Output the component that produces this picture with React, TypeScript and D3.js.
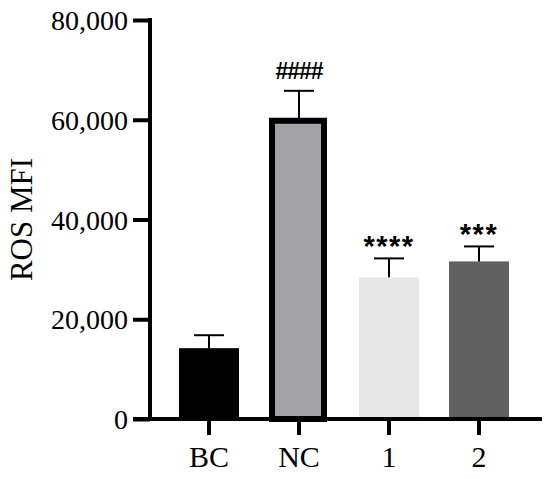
import React, { useEffect, useRef } from 'react';
import * as d3 from 'd3';

const categories = ['BC', 'NC', '1', '2'];
const means = [14200, 60000, 28400, 31600];
const errors = [2600, 5800, 3800, 3000];
const marks = ['', '####', '****', '***'];
const yTicks = [0, 20000, 40000, 60000, 80000];
const fills = ['#000000', '#a2a2a6', '#e8e8e8', '#616161'];

const App: React.FC = () => {
  const svgRef = useRef<SVGSVGElement>(null);

  useEffect(() => {
    if (!svgRef.current) return;
    const svg = d3.select(svgRef.current);
    svg.selectAll('*').remove();

    const serif = '"Liberation Serif", "Times New Roman", serif';
    const sans = '"Liberation Sans", Arial, sans-serif';

    const x = d3.scaleBand<string>()
      .domain(categories)
      .range([164, 524])
      .paddingInner(1 / 3)
      .paddingOuter(1 / 6);

    const y = d3.scaleLinear()
      .domain([0, 80000])
      .range([419, 20]);

    const data = categories.map((c, i) => ({ c, m: means[i], e: errors[i], mark: marks[i], fill: fills[i] }));

    // bars
    data.forEach((d, i) => {
      const x0 = x(d.c)!;
      const w = x.bandwidth();
      if (i === 1) {
        svg.append('rect')
          .attr('x', x0 + 3)
          .attr('y', y(d.m) + 1)
          .attr('width', w - 8)
          .attr('height', y(0) - y(d.m) - 1)
          .attr('fill', d.fill)
          .attr('stroke', '#000')
          .attr('stroke-width', 6);
      } else {
        svg.append('rect')
          .attr('x', x0)
          .attr('y', y(d.m))
          .attr('width', w)
          .attr('height', y(0) - y(d.m))
          .attr('fill', d.fill);
      }

      // error bar (upper only)
      const cx = x0 + w / 2;
      const top = y(d.m + d.e);
      svg.append('line')
        .attr('x1', cx).attr('x2', cx)
        .attr('y1', y(d.m)).attr('y2', top)
        .attr('stroke', '#000').attr('stroke-width', 2);
      svg.append('line')
        .attr('x1', cx - 15).attr('x2', cx + 15)
        .attr('y1', top).attr('y2', top)
        .attr('stroke', '#000').attr('stroke-width', 2);

      if (d.mark) {
        const isHash = d.mark.startsWith('#');
        svg.append('text')
          .attr('x', cx)
          .attr('y', isHash ? top - 12 : top - 2)
          .attr('text-anchor', 'middle')
          .attr('font-family', sans)
          .attr('font-weight', 'bold')
          .attr('font-size', isHash ? 23 : 29)
          .attr('letter-spacing', isHash ? -1 : 1.5)
          .attr('fill', '#000')
          .text(d.mark);
      }
    });

    // y axis
    const yAxis = svg.append('g')
      .attr('transform', 'translate(150,0)')
      .call(d3.axisLeft(y).tickValues(yTicks).tickSize(17).tickPadding(5).tickFormat(d3.format(',')));
    yAxis.select('.domain').remove();
    yAxis.selectAll('.tick line').attr('stroke', '#000').attr('stroke-width', 4);
    yAxis.selectAll('.tick text')
      .attr('font-family', serif)
      .attr('font-size', 28)
      .attr('fill', '#000')
      .attr('dy', '0.34em');
    svg.append('line')
      .attr('x1', 150).attr('x2', 150)
      .attr('y1', y(80000) - 2).attr('y2', y(0) + 2)
      .attr('stroke', '#000').attr('stroke-width', 4);

    // x axis
    const xAxis = svg.append('g')
      .attr('transform', `translate(0,${y(0)})`)
      .call(d3.axisBottom(x).tickSize(16).tickPadding(11));
    xAxis.select('.domain').remove();
    xAxis.selectAll('.tick line').attr('stroke', '#000').attr('stroke-width', 4);
    xAxis.selectAll('.tick text')
      .attr('font-family', serif)
      .attr('font-size', 30)
      .attr('fill', '#000');
    svg.append('line')
      .attr('x1', 133).attr('x2', 542)
      .attr('y1', y(0)).attr('y2', y(0))
      .attr('stroke', '#000').attr('stroke-width', 4);

    // y label
    svg.append('text')
      .attr('transform', `translate(32,${(y(0) + y(80000)) / 2})rotate(-90)`)
      .attr('text-anchor', 'middle')
      .attr('font-family', serif)
      .attr('font-size', 31)
      .attr('fill', '#000')
      .text('ROS MFI');
  }, []);

  return (
    <svg
      ref={svgRef}
      width={550}
      height={481}
      style={{ position: 'absolute', left: 0, top: 0, background: '#fff' }}
    />
  );
};

export default App;
